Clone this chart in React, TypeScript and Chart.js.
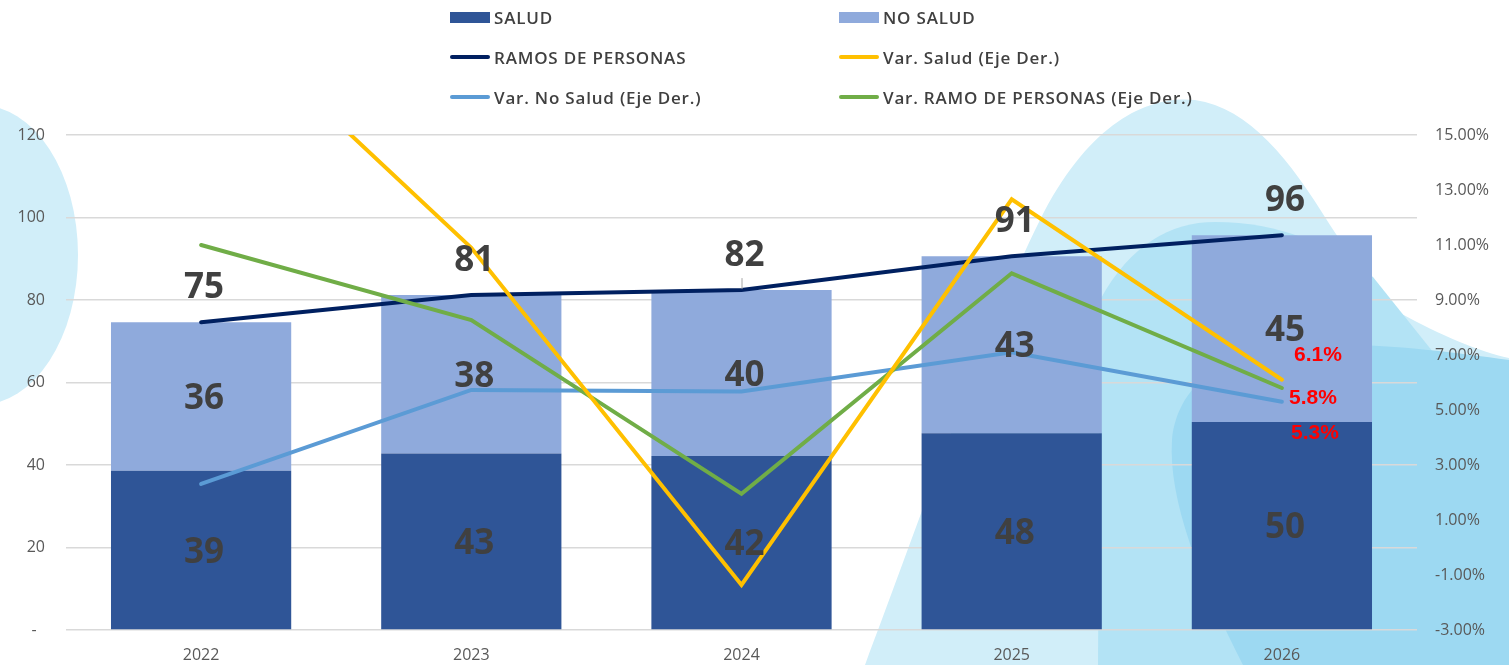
import React, { useEffect, useRef } from 'react';
import { Chart, registerables } from 'chart.js';

Chart.register(...registerables);

// ---------- DATA ----------
const years = ['2022', '2023', '2024', '2025', '2026'];
const salud = [38.6, 42.8, 42.2, 47.7, 50.4];
const noSalud = [36.0, 38.4, 40.2, 42.9, 45.3];
const ramosPersonas = [74.6, 81.2, 82.4, 90.6, 95.7];
const varSalud = [20.1, 10.9, -1.36, 12.66, 6.1];
const varNoSalud = [2.31, 5.73, 5.67, 7.1, 5.3];
const varRamo = [11.0, 8.27, 1.95, 9.97, 5.8];

const leftMin = 0;
const leftMax = 120;
const leftStep = 20;
const rightMin = -3;
const rightMax = 15;
const rightStep = 2;

const seriesNames = [
  'SALUD',
  'NO SALUD',
  'RAMOS DE PERSONAS',
  'Var. Salud (Eje Der.)',
  'Var. No Salud (Eje Der.)',
  'Var. RAMO DE PERSONAS (Eje Der.)',
];

// ---------- STYLE ----------
const C_SALUD = '#2F5597';
const C_NOSALUD = '#8FAADC';
const C_RAMOS = '#002060';
const C_VSALUD = '#FFC000';
const C_VNOSALUD = '#5B9BD5';
const C_VRAMO = '#70AD47';
const TICK_COLOR = '#595959';
const LABEL_COLOR = '#404040';
const BIG_FONT = 'bold 35px "Open Sans"';
const BIG_SIZE = 35;
const RED_FONT = 'bold 21px "Liberation Sans"';
const RED_SIZE = 21;

const bgPlugin = {
  id: 'bgShapes',
  beforeDraw(chart: any) {
    const ctx = chart.ctx as CanvasRenderingContext2D;
    ctx.save();
    // left blob
    ctx.fillStyle = '#D1EEF9';
    ctx.beginPath();
    ctx.ellipse(-20, 255, 98, 150, 0, 0, Math.PI * 2);
    ctx.fill();
    // right mountain (light)
    ctx.beginPath();
    ctx.moveTo(865, 665);
    ctx.bezierCurveTo(920, 520, 985, 330, 1040, 220);
    ctx.bezierCurveTo(1090, 120, 1150, 95, 1195, 100);
    ctx.bezierCurveTo(1250, 108, 1290, 160, 1330, 225);
    ctx.bezierCurveTo(1355, 262, 1375, 295, 1400, 313);
    ctx.bezierCurveTo(1440, 335, 1480, 352, 1509, 358);
    ctx.lineTo(1509, 665);
    ctx.closePath();
    ctx.fill();
    // medium
    ctx.fillStyle = '#B3E3F5';
    ctx.beginPath();
    ctx.moveTo(1098, 665);
    ctx.lineTo(1100, 300);
    ctx.bezierCurveTo(1130, 245, 1170, 222, 1215, 222);
    ctx.bezierCurveTo(1280, 222, 1330, 245, 1373, 277);
    ctx.lineTo(1509, 447);
    ctx.lineTo(1509, 665);
    ctx.closePath();
    ctx.fill();
    // darker
    ctx.fillStyle = '#9DD9F2';
    ctx.beginPath();
    ctx.moveTo(1243, 665);
    ctx.bezierCurveTo(1200, 580, 1168, 500, 1172, 440);
    ctx.bezierCurveTo(1178, 380, 1230, 350, 1300, 345);
    ctx.bezierCurveTo(1380, 342, 1450, 352, 1509, 360);
    ctx.lineTo(1509, 665);
    ctx.closePath();
    ctx.fill();
    ctx.restore();
  },
};

const labelPlugin = {
  id: 'valueLabels',
  afterDatasetsDraw(chart: any) {
    const ctx = chart.ctx as CanvasRenderingContext2D;
    ctx.save();
    ctx.textAlign = 'center';
    ctx.textBaseline = 'alphabetic';
    // stacked bar labels
    [0, 1].forEach((di) => {
      const meta = chart.getDatasetMeta(di);
      const vals = chart.data.datasets[di].data as number[];
      meta.data.forEach((el: any, i: number) => {
        const p = el.getProps(['x', 'y', 'base'], true);
        ctx.font = BIG_FONT;
        ctx.fillStyle = LABEL_COLOR;
        ctx.fillText(String(Math.round(vals[i])), p.x + 3, (p.y + p.base) / 2 + BIG_SIZE * 0.357);
      });
    });
    // total line labels
    {
      const meta = chart.getDatasetMeta(2);
      const vals = chart.data.datasets[2].data as number[];
      meta.data.forEach((el: any, i: number) => {
        const p = el.getProps(['x', 'y'], true);
        ctx.font = BIG_FONT;
        ctx.fillStyle = LABEL_COLOR;
        ctx.fillText(String(Math.round(vals[i])), p.x + 3, p.y - 37 + BIG_SIZE * 0.357);
        if (i === 2) {
          ctx.strokeStyle = '#A6A6A6';
          ctx.lineWidth = 1;
          ctx.beginPath();
          ctx.moveTo(p.x + 0.5, p.y - 12);
          ctx.lineTo(p.x + 0.5, p.y - 1);
          ctx.stroke();
        }
      });
    }
    // last-point variation labels (red)
    const offsets: Record<number, [number, number]> = { 3: [36, -26], 5: [31, 8], 4: [33, 30] };
    [3, 4, 5].forEach((di) => {
      const meta = chart.getDatasetMeta(di);
      const vals = chart.data.datasets[di].data as number[];
      const last = vals.length - 1;
      const el = meta.data[last];
      const p = el.getProps(['x', 'y'], true);
      ctx.font = RED_FONT;
      ctx.fillStyle = '#FF0000';
      const [dx, dy] = offsets[di];
      ctx.fillText(vals[last].toFixed(1) + '%', p.x + dx, p.y + dy + RED_SIZE * 0.358);
    });
    ctx.restore();
  },
};

const legendItems = [
  { name: seriesNames[0], kind: 'box', color: C_SALUD, x: 450, y: 17 },
  { name: seriesNames[1], kind: 'box', color: C_NOSALUD, x: 839, y: 17 },
  { name: seriesNames[2], kind: 'line', color: C_RAMOS, x: 450, y: 57 },
  { name: seriesNames[3], kind: 'line', color: C_VSALUD, x: 839, y: 57 },
  { name: seriesNames[4], kind: 'line', color: C_VNOSALUD, x: 450, y: 97 },
  { name: seriesNames[5], kind: 'line', color: C_VRAMO, x: 839, y: 97 },
];

export default function App() {
  const canvasRef = useRef<HTMLCanvasElement | null>(null);

  useEffect(() => {
    document.body.style.margin = '0';
    document.body.style.overflow = 'hidden';
    const canvas = canvasRef.current;
    if (!canvas) return;
    const lineCommon = {
      type: 'line' as const,
      pointRadius: 0,
      pointHoverRadius: 0,
      borderWidth: 4,
      tension: 0,
      borderCapStyle: 'round' as const,
      borderJoinStyle: 'miter' as const,
      fill: false,
    };
    const chart = new Chart(canvas, {
      type: 'bar',
      data: {
        labels: years,
        datasets: [
          {
            type: 'bar',
            label: seriesNames[0],
            data: salud,
            backgroundColor: C_SALUD,
            yAxisID: 'y',
            stack: 'bars',
            order: 10,
            barPercentage: 0.667,
            categoryPercentage: 1,
          },
          {
            type: 'bar',
            label: seriesNames[1],
            data: noSalud,
            backgroundColor: C_NOSALUD,
            yAxisID: 'y',
            stack: 'bars',
            order: 11,
            barPercentage: 0.667,
            categoryPercentage: 1,
          },
          {
            ...lineCommon,
            label: seriesNames[2],
            data: ramosPersonas,
            borderColor: C_RAMOS,
            yAxisID: 'y',
            stack: 'line',
            order: 4,
          },
          {
            ...lineCommon,
            label: seriesNames[3],
            data: varSalud,
            borderColor: C_VSALUD,
            yAxisID: 'yR',
            order: 1,
          },
          {
            ...lineCommon,
            label: seriesNames[4],
            data: varNoSalud,
            borderColor: C_VNOSALUD,
            yAxisID: 'yR',
            order: 3,
          },
          {
            ...lineCommon,
            label: seriesNames[5],
            data: varRamo,
            borderColor: C_VRAMO,
            yAxisID: 'yR',
            order: 2,
          },
        ] as any,
      },
      options: {
        responsive: false,
        animation: false,
        events: [],
        layout: { padding: { top: 135, left: 0, right: 0, bottom: 0 } },
        plugins: {
          legend: { display: false },
          tooltip: { enabled: false },
          title: { display: false },
        },
        scales: {
          x: {
            stacked: true,
            grid: { display: false, drawTicks: false },
            border: { display: false },
            ticks: {
              color: TICK_COLOR,
              font: { family: '"Open Sans"', size: 16 },
              padding: 16,
            },
            afterFit: (s: any) => {
              s.height = 35;
            },
          },
          y: {
            position: 'left',
            stacked: true,
            min: leftMin,
            max: leftMax,
            grid: { color: '#D9D9D9', lineWidth: 1.5, drawTicks: false },
            border: { display: false },
            ticks: {
              stepSize: leftStep,
              color: TICK_COLOR,
              font: { family: '"Open Sans"', size: 16 },
              padding: 21,
              callback: (v: any) => (Number(v) === 0 ? '-  ' : String(v)),
            },
            afterFit: (s: any) => {
              s.width = 66;
            },
          },
          yR: {
            position: 'right',
            min: rightMin,
            max: rightMax,
            grid: { display: false, drawTicks: false },
            border: { display: false },
            ticks: {
              stepSize: rightStep,
              color: TICK_COLOR,
              font: { family: '"Open Sans"', size: 16 },
              padding: 18,
              callback: (v: any) => Number(v).toFixed(2) + '%',
            },
            afterFit: (s: any) => {
              s.width = 92;
            },
          },
        },
      } as any,
      plugins: [bgPlugin, labelPlugin],
    });
    return () => {
      chart.destroy();
    };
  }, []);

  return (
    <div style={{ position: 'relative', width: 1509, height: 665, overflow: 'hidden', background: '#FFFFFF' }}>
      <canvas ref={canvasRef} width={1509} height={665} style={{ position: 'absolute', left: 0, top: 0 }} />
      {legendItems.map((it) => (
        <div
          key={it.name}
          style={{
            position: 'absolute',
            left: it.x,
            top: it.y - 12,
            height: 24,
            display: 'flex',
            alignItems: 'center',
            whiteSpace: 'nowrap',
            fontFamily: '"Open Sans", sans-serif',
            fontWeight: 600,
            fontSize: 17,
            letterSpacing: 0.8,
            color: LABEL_COLOR,
          }}
        >
          <span
            style={{
              display: 'inline-block',
              width: 40,
              height: it.kind === 'box' ? 11 : 4,
              borderRadius: it.kind === 'box' ? 0 : 2,
              background: it.color,
              marginRight: 4,
            }}
          />
          <span>{it.name}</span>
        </div>
      ))}
    </div>
  );
}
